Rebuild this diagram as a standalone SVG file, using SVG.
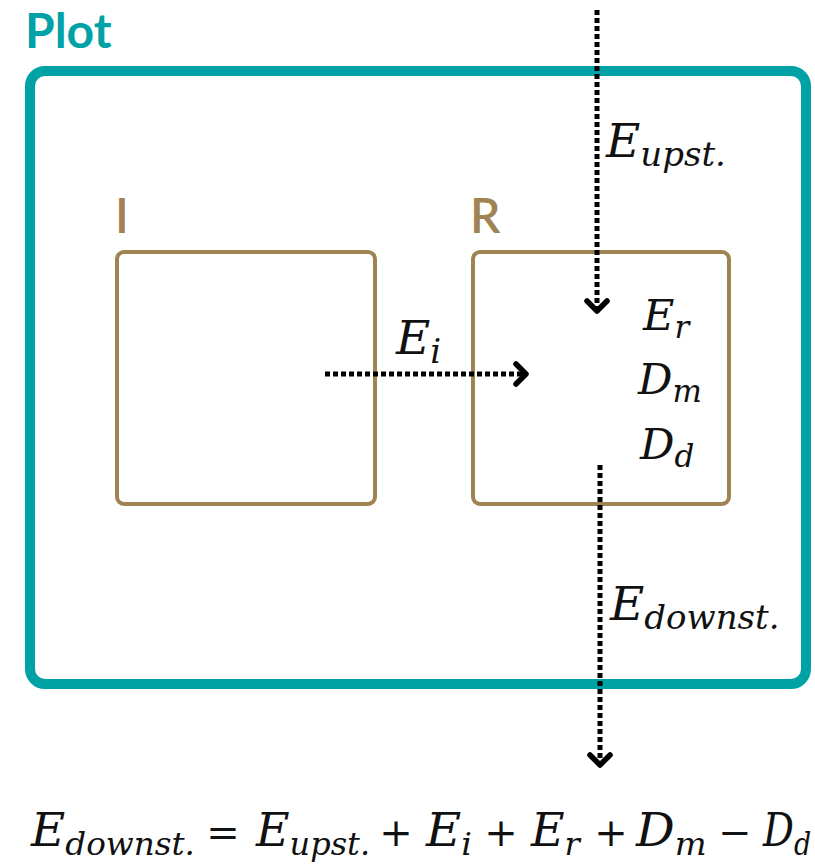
<svg xmlns="http://www.w3.org/2000/svg" width="815" height="865" viewBox="0 0 815 865">
  <defs>
    <style>
      .plot { fill: none; stroke: #00A2A5; stroke-width: 10; }
      .box { fill: none; stroke: #9F8352; stroke-width: 4; }
      .title { font-family: Lato, "Open Sans", sans-serif; font-weight: bold; }
      .label { font-family: Lato, "Open Sans", sans-serif; font-weight: 600; fill: #9F8352; }
      .math { font-family: "DejaVu Serif", "Liberation Serif", serif; font-style: italic; fill: #111; }
      .op { font-family: "DejaVu Serif", "Liberation Serif", serif; font-style: normal; fill: #111; text-anchor: middle; }
      .flow { fill: none; stroke: #000; stroke-width: 5; stroke-dasharray: 5 3; }
    </style>
    <marker id="chev" viewBox="-16 -14 20 28" markerWidth="20" markerHeight="28" refX="0" refY="0" orient="auto" markerUnits="userSpaceOnUse">
      <path d="M -10,-10 L 0,0 L -10,10" fill="none" stroke="#000" stroke-width="5.5" stroke-linecap="round" stroke-linejoin="round"/>
    </marker>
  </defs>

  <g id="plot">
    <rect class="plot" x="30" y="71" width="776" height="613" rx="15"/>
    <text class="title" x="25" y="48" font-size="48" fill="#00A2A5">Plot</text>
  </g>

  <g id="node-I">
    <rect class="box" x="117" y="252" width="258" height="252" rx="7"/>
    <text class="label" x="115" y="233" font-size="48">I</text>
  </g>

  <g id="node-R">
    <rect class="box" x="473" y="252" width="256" height="252" rx="7"/>
    <text class="label" x="470" y="233" font-size="48">R</text>
    <text class="math" x="643" y="330" font-size="43">E<tspan font-size="31" dy="8">r</tspan></text>
    <text class="math" x="638" y="394" font-size="43">D<tspan font-size="31" dy="8">m</tspan></text>
    <text class="math" x="640" y="459" font-size="43">D<tspan font-size="31" dy="8">d</tspan></text>
  </g>

  <g id="connectors">
    <line class="flow" x1="597" y1="10" x2="597" y2="311" marker-end="url(#chev)"/>
    <line class="flow" x1="325" y1="374" x2="526" y2="374" marker-end="url(#chev)"/>
    <line class="flow" x1="600" y1="465" x2="600" y2="765" marker-end="url(#chev)"/>
    <text class="math" x="606" y="157" font-size="47">E<tspan font-size="34" dy="9">upst.</tspan></text>
    <text class="math" x="396" y="354" font-size="47">E<tspan font-size="34" dy="9">i</tspan></text>
    <text class="math" x="610" y="620" font-size="47">E<tspan font-size="34" dy="9">downst.</tspan></text>
  </g>

  <g id="equation">
    <text class="math" transform="translate(31,846) scale(1.02,1)" font-size="46">E<tspan font-size="32" dy="9">downst.</tspan></text>
    <text class="op" x="223" y="846" font-size="40">=</text>
    <text class="math" transform="translate(256,846)" font-size="46">E<tspan font-size="32" dy="9">upst.</tspan></text>
    <text class="op" x="396" y="846" font-size="40">+</text>
    <text class="math" transform="translate(426,846) scale(1.05,1)" font-size="46">E<tspan font-size="32" dy="9">i</tspan></text>
    <text class="op" x="501" y="846" font-size="40">+</text>
    <text class="math" transform="translate(531,846)" font-size="46">E<tspan font-size="32" dy="9">r</tspan></text>
    <text class="op" x="611" y="846" font-size="40">+</text>
    <text class="math" transform="translate(636,846) scale(1.05,1)" font-size="46">D<tspan font-size="32" dy="9">m</tspan></text>
    <text class="op" x="735" y="846" font-size="40">−</text>
    <text class="math" transform="translate(763,846) scale(0.84,1)" font-size="46">D<tspan font-size="32" dy="9">d</tspan></text>
  </g>
</svg>
